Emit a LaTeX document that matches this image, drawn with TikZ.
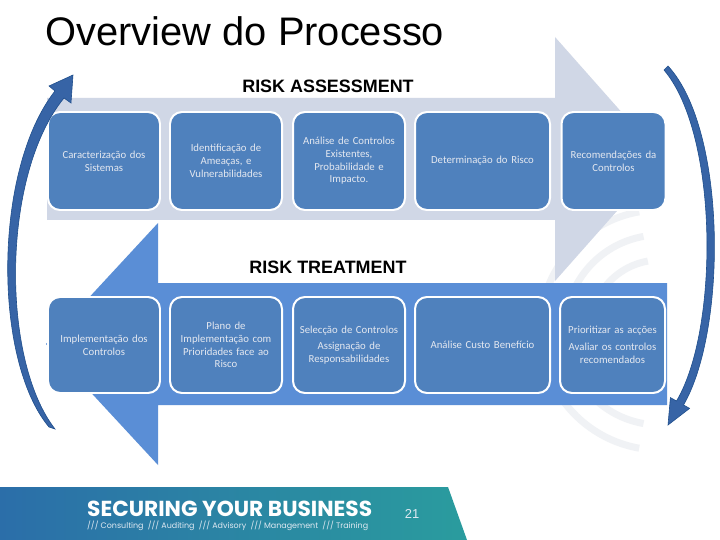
\documentclass[tikz,border=0pt]{standalone}
\usepackage{fontspec}
\setmainfont{Liberation Sans}
\newfontfamily\boxfont{Carlito}
\newfontfamily\footfont{Poppins}
\definecolor{boxblue}{HTML}{4F81BD}
\definecolor{topgray}{HTML}{D0D7E6}
\definecolor{botblue}{HTML}{5A8ED6}
\definecolor{arcblue}{HTML}{3764A6}
\definecolor{arcdark}{HTML}{1F4E8C}
\definecolor{boxtext}{HTML}{E4E8F0}
\definecolor{footL}{HTML}{2B6EA9}
\definecolor{footR}{HTML}{2A9C9E}
\definecolor{decor}{HTML}{F0F2F5}
\tikzset{
  procbox/.style={draw=white, line width=2pt, fill=boxblue, rounded corners=12bp,
    text width=104bp, align=center, inner sep=0pt, text=boxtext,
    font=\boxfont\fontsize{10.8}{12.8}\selectfont},
  topbox/.style={procbox, minimum height=98bp},
  botbox/.style={procbox, minimum height=96bp},
  label/.style={font=\bfseries\fontsize{18}{18}\selectfont, text=black},
  curvarrow/.style={fill=arcblue, draw=arcdark, line width=0.6pt}
}
\begin{document}
\begin{tikzpicture}[x=1bp,y=-1bp]
\useasboundingbox (0,0) rectangle (720,540);
\fill[white] (0,0) rectangle (720,540);
% faint background decoration
\foreach \r in {70,95,120}{
  \draw[decor, line width=7pt] (660,330) ++(100:\r) arc[start angle=100, end angle=260, radius=\r];
}
% top arrow (risk assessment)
\fill[topgray] (47,98) -- (555,98) -- (555,37) -- (663,159) -- (555,281) -- (555,220) -- (47,220) -- cycle;
% bottom arrow (risk treatment)
\fill[botblue] (667,283) -- (158,283) -- (158,223) -- (46,344) -- (158,465) -- (158,405) -- (667,405) -- cycle;
% title and labels
\node[anchor=base west, font=\fontsize{40}{40}\selectfont] (title) at (42,46) {Overview do Processo};
\node[label] (ra) at (328,86) {RISK ASSESSMENT};
\node[label] (rt) at (328,267) {RISK TREATMENT};
% top boxes
\node[topbox, minimum width=112bp] (t1) at (104,161) {Caracterização dos\\Sistemas};
\node[topbox, minimum width=112bp] (t2) at (226,161) {Identificação de\\Ameaças, e\\Vulnerabilidades};
\node[topbox, minimum width=112bp] (t3) at (349,161) {Análise de Controlos\\Existentes,\\Probabilidade e\\Impacto.};
\node[topbox, minimum width=135bp] (t4) at (482.5,161) {Determinação do Risco};
\node[topbox, minimum width=103bp] (t5) at (613.5,161) {Recomendações da\\Controlos};
% bottom boxes
\node[botbox, minimum width=112bp] (b1) at (104,345) {Implementação dos\\Controlos};
\node[botbox, minimum width=112bp] (b2) at (226,345) {Plano de\\Implementação com\\Prioridades face ao\\Risco};
\node[botbox, minimum width=112bp] (b3) at (349,345) {Selecção de Controlos\\[4bp]Assignação de\\Responsabilidades};
\node[botbox, minimum width=135bp] (b4) at (482.5,345) {Análise Custo Benefício};
\node[botbox, minimum width=105bp] (b5) at (612.5,345) {Prioritizar as acções\\[4bp]Avaliar os controlos\\recomendados};
% curved arrows
\draw[curvarrow] (49,427) .. controls (-7,360) and (-7,170) .. (55,91) -- (49,86) -- (73,75) -- (71,103) -- (64,98) .. controls (1,175) and (1,360) .. (55,429) -- cycle;
\draw[curvarrow] (668,66) .. controls (727,130) and (727,330) .. (683.5,405) -- (689.6,408.4) -- (668,425) -- (670.4,397.6) -- (676.5,401) .. controls (719,330) and (719,135) .. (664,70) -- cycle;
% footer
\shade[left color=footL, right color=footR] (0,487) -- (448,487) -- (467,540) -- (0,540) -- cycle;
\node[anchor=base west, inner sep=0pt, text=white, font=\footfont\bfseries\fontsize{21.8}{21.8}\selectfont] (slogan) at (87,516) {SECURING YOUR BUSINESS};
\node[anchor=base west, inner sep=0pt, text=white!85!footL, font=\footfont\fontsize{8}{8}\selectfont] (sub) at (87,528) {/// Consulting\ \ /// Auditing\ \ /// Advisory\ \ /// Management\ \ /// Training};
\node[anchor=base, text=white!85!footL, font=\fontsize{13}{13}\selectfont] (pg) at (412,518) {21};
\end{tikzpicture}
\end{document}
